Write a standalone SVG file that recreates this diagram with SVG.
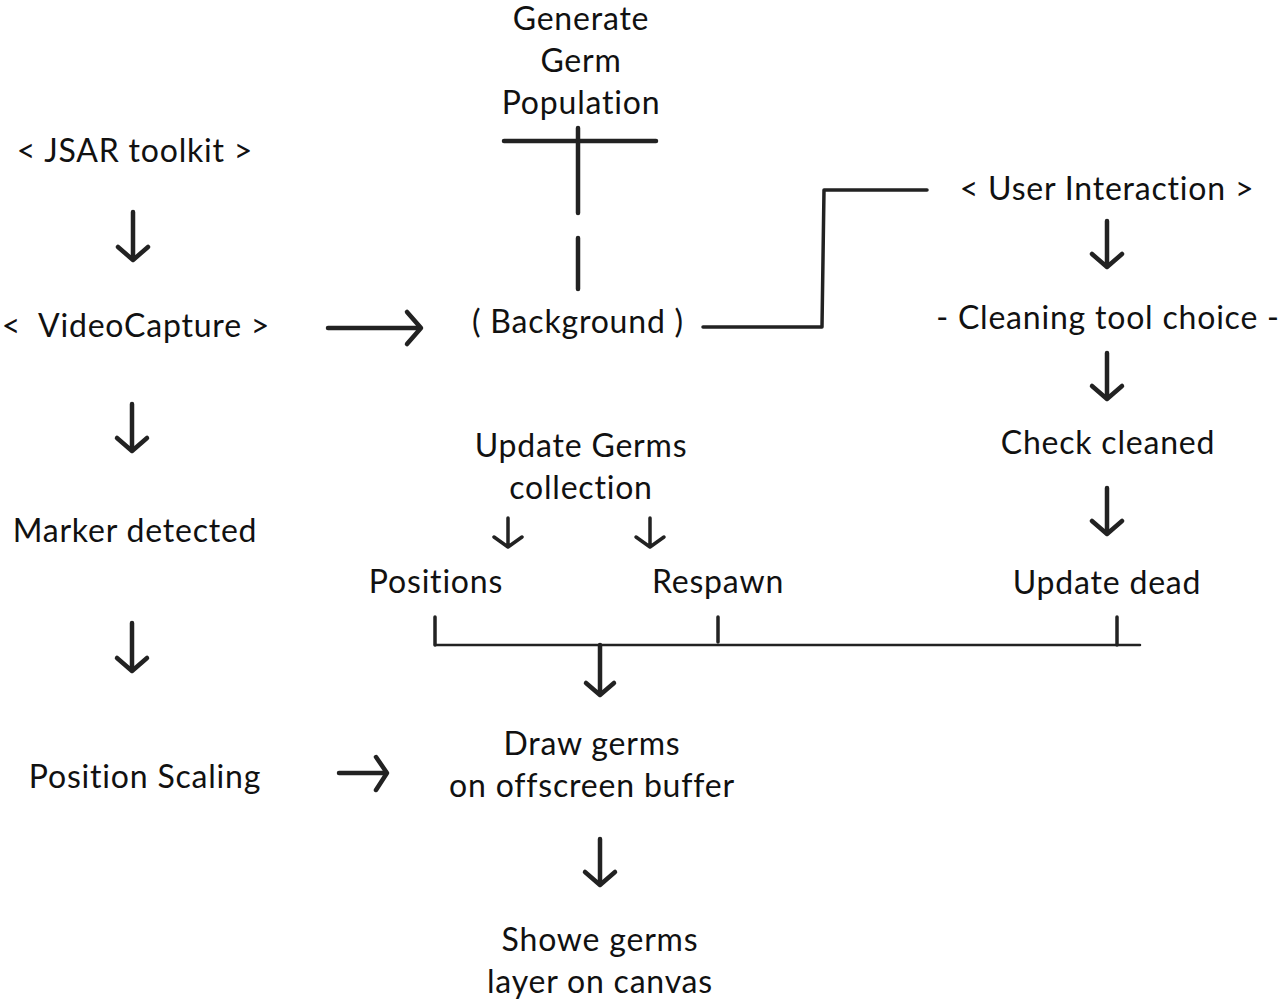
<svg xmlns="http://www.w3.org/2000/svg" width="1279" height="1004" viewBox="0 0 1279 1004">
<style>
text{font-family:"Lato","Open Sans","Liberation Sans",sans-serif;font-size:32px;letter-spacing:0.8px;fill:#111;text-anchor:middle;dominant-baseline:central}
.c{fill:none;stroke:#222;stroke-linecap:round;stroke-linejoin:round}
.t{stroke-width:4.5}
.m{stroke-width:3.5}
.s{stroke-width:2.5}
</style>
<rect width="1279" height="1004" fill="#fff"/>
<g id="connectors">
<path class="c t" d="M504 141 L656 141"/>
<path class="c t" d="M578 128 L578 213"/>
<path class="c t" d="M578 238 L578 289"/>
<path class="c t" d="M133 212 L133 260 M118 247 L133 260 L148 247"/>
<path class="c t" d="M328 328 L420 328 M407 312 L421 328 L407 344"/>
<path class="c m" d="M703 327 L822 327 L824 190 L927 190"/>
<path class="c t" d="M1107 221 L1107 267 M1092 254 L1107 267 L1122 254"/>
<path class="c t" d="M1107 353 L1107 399 M1092 386 L1107 399 L1122 386"/>
<path class="c t" d="M1107 488 L1107 534 M1092 521 L1107 534 L1122 521"/>
<path class="c t" d="M132 404 L132 451 M117 438 L132 451 L147 438"/>
<path class="c t" d="M132 623 L132 671 M117 658 L132 671 L147 658"/>
<path class="c t" d="M339 773 L386 773 M376 757 L387 773 L376 790"/>
<path class="c m" d="M508 518 L508 547 M494 537 L508 547 L522 537"/>
<path class="c m" d="M650 518 L650 547 M636 537 L650 547 L664 537"/>
<path class="c s" d="M435 645 L1140 645"/>
<path class="c m" d="M435 617 L435 645 M718 617 L718 642 M1117 617 L1117 645"/>
<path class="c t" d="M600 645 L600 695 M586 683 L600 695 L614 683"/>
<path class="c t" d="M600 839 L600 885 M585 872 L600 885 L615 872"/>
</g>
<g id="generate"><text x="581" y="17">Generate</text><text x="581" y="59">Germ</text><text x="581" y="101">Population</text></g>
<g id="jsar"><text x="135" y="149">&lt; JSAR toolkit &gt;</text></g>
<g id="videocapture"><text x="136" y="324" xml:space="preserve">&lt;  VideoCapture &gt;</text></g>
<g id="background"><text x="578" y="320">( Background )</text></g>
<g id="user"><text x="1107" y="187">&lt; User Interaction &gt;</text></g>
<g id="cleaning"><text x="1108" y="316">- Cleaning tool choice -</text></g>
<g id="check"><text x="1108" y="441">Check cleaned</text></g>
<g id="dead"><text x="1107" y="581">Update dead</text></g>
<g id="marker"><text x="135" y="529">Marker detected</text></g>
<g id="scaling"><text x="145" y="775">Position Scaling</text></g>
<g id="updategerms"><text x="581" y="444">Update Germs</text><text x="581" y="486">collection</text></g>
<g id="positions"><text x="436" y="580">Positions</text></g>
<g id="respawn"><text x="718" y="580">Respawn</text></g>
<g id="draw"><text x="592" y="742">Draw germs</text><text x="592" y="784">on offscreen buffer</text></g>
<g id="showe"><text x="600" y="938">Showe germs</text><text x="600" y="980">layer on canvas</text></g>
</svg>
